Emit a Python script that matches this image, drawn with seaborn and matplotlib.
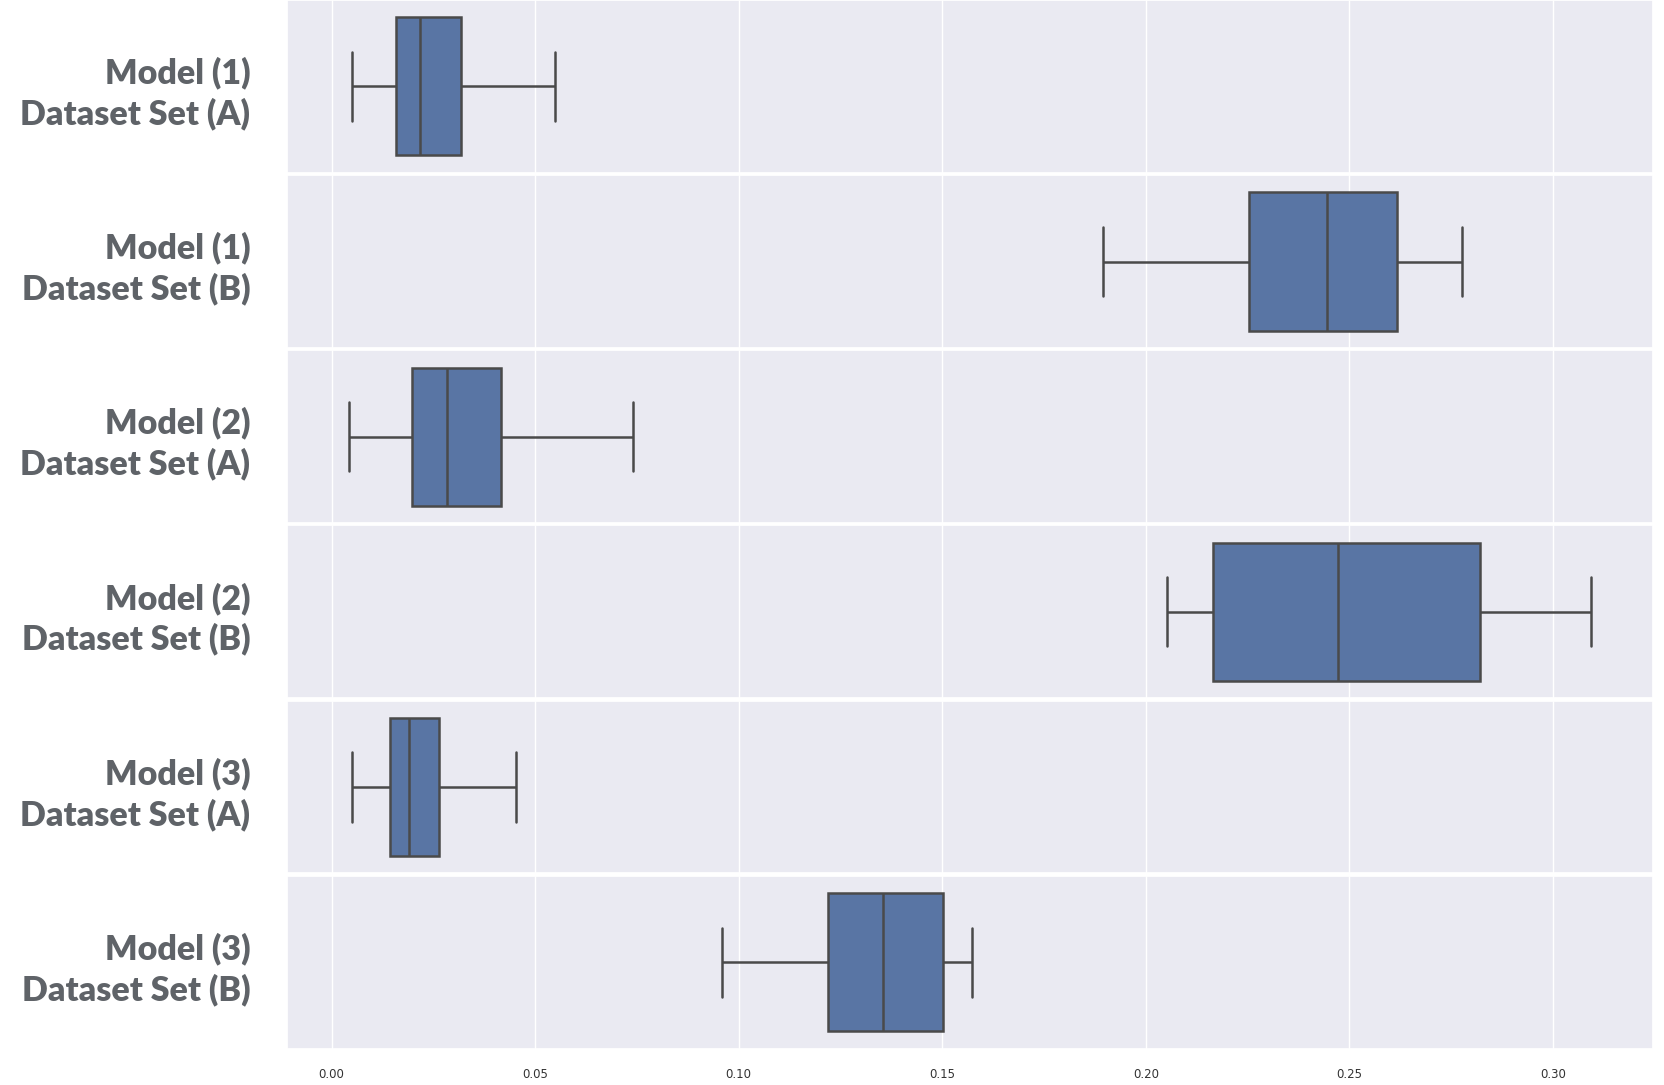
import numpy as np
import pandas as pd
import matplotlib
matplotlib.use("Agg")
import matplotlib.pyplot as plt
import seaborn as sns

# five-number summaries (min, q1, median, q3, max)
labels = [
    "Model (1)\nDataset Set (A)",
    "Model (1)\nDataset Set (B)",
    "Model (2)\nDataset Set (A)",
    "Model (2)\nDataset Set (B)",
    "Model (3)\nDataset Set (A)",
    "Model (3)\nDataset Set (B)",
]
m1_a = [0.0049, 0.0159, 0.0218, 0.0317, 0.0549]
m1_b = [0.1895, 0.2254, 0.2444, 0.2618, 0.2776]
m2_a = [0.0042, 0.0198, 0.0283, 0.0416, 0.0741]
m2_b = [0.2051, 0.2165, 0.2472, 0.2821, 0.3094]
m3_a = [0.0049, 0.0143, 0.0190, 0.0265, 0.0452]
m3_b = [0.0959, 0.1219, 0.1354, 0.1503, 0.1573]
series = [m1_a, m1_b, m2_a, m2_b, m3_a, m3_b]

sns.set_theme(style="darkgrid")

fig, axes = plt.subplots(6, 1, sharex=True, figsize=(16.64, 10.85), dpi=100)
fig.subplots_adjust(left=0.1722, right=0.9936, top=1.0, bottom=0.0336, hspace=0.014)

for ax, lab, vals in zip(axes, labels, series):
    df = pd.DataFrame({"value": vals, "group": [lab] * len(vals)})
    sns.boxplot(data=df, x="value", y="group", ax=ax, whis=(0, 100), width=0.8,
                linewidth=1.8, linecolor="#4a4a4a")
    ax.set_xlabel("")
    ax.set_ylabel("")
    ax.tick_params(axis="y", pad=20)
    for t in ax.get_yticklabels():
        t.set_fontfamily("Lato")
        t.set_fontweight("heavy")
        t.set_fontsize(24.5)
        t.set_color("#5f6368")
        t.set_linespacing(1.3)

axes[-1].tick_params(axis="x", labelsize=8.5, pad=8)
for t in axes[-1].get_xticklabels():
    t.set_color("#333333")

plt.savefig("out.png", dpi=100)
